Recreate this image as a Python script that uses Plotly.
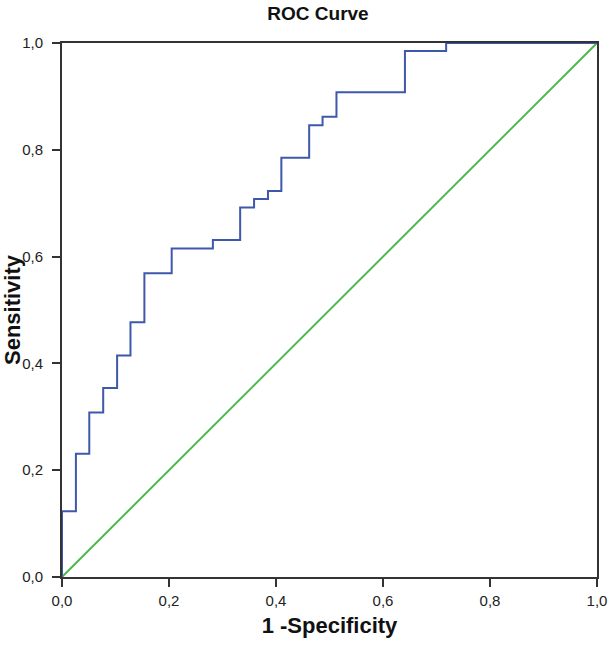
import plotly.graph_objects as go

# ROC curve points (1 - specificity, sensitivity)
fpr = [0.0, 0.0, 0.026, 0.051, 0.077, 0.103, 0.128, 0.154, 0.205, 0.282, 0.333,
       0.359, 0.385, 0.410, 0.462, 0.487, 0.513, 0.641, 0.718, 1.0]
tpr = [0.0, 0.123, 0.231, 0.308, 0.354, 0.415, 0.477, 0.569, 0.615, 0.631, 0.692,
       0.708, 0.723, 0.785, 0.846, 0.862, 0.908, 0.985, 1.0, 1.0]

ref_x = [0.0, 1.0]
ref_y = [0.0, 1.0]

tick_vals = [0.0, 0.2, 0.4, 0.6, 0.8, 1.0]

fig = go.Figure()
fig.add_trace(go.Scatter(x=ref_x, y=ref_y, mode="lines",
                         line=dict(color="#4CB94F", width=2), cliponaxis=False,
                         hoverinfo="skip", showlegend=False))
fig.add_trace(go.Scatter(x=fpr, y=tpr, mode="lines", line_shape="hv",
                         line=dict(color="#3E58AC", width=2), cliponaxis=False,
                         showlegend=False))

font_family = "Liberation Sans, Arial, sans-serif"
axis_common = dict(
    range=[0, 1], tickvals=tick_vals, tickformat=".1f",
    showgrid=False, zeroline=False, showline=True, mirror=True,
    linecolor="#333333", linewidth=2, ticks="outside", ticklen=8,
    tickwidth=2, tickcolor="#333333", layer="below traces",
    automargin=False,
    tickfont=dict(family=font_family, size=15, color="#222222"),
)

fig.update_layout(
    width=612, height=645,
    margin=dict(l=62, r=15, t=43, b=68),
    paper_bgcolor="white", plot_bgcolor="white",
    separators=", ",
    title=dict(text="<b>ROC Curve</b>", x=318 / 612, xanchor="center",
               y=0.979, yanchor="middle",
               font=dict(family=font_family, size=19, color="#111111")),
    xaxis=dict(axis_common, ticklabelstandoff=1,
               title=dict(text="<b>1 -Specificity</b>", standoff=10,
                          font=dict(family=font_family, size=22, color="#111111"))),
    yaxis=dict(axis_common, ticklabelstandoff=6,
               title=dict(text="<b>Sensitivity</b>", standoff=4,
                          font=dict(family=font_family, size=22, color="#111111"))),
)

fig.write_html("out.html", config={"displayModeBar": False},
               post_script="document.body.style.margin='0';")
